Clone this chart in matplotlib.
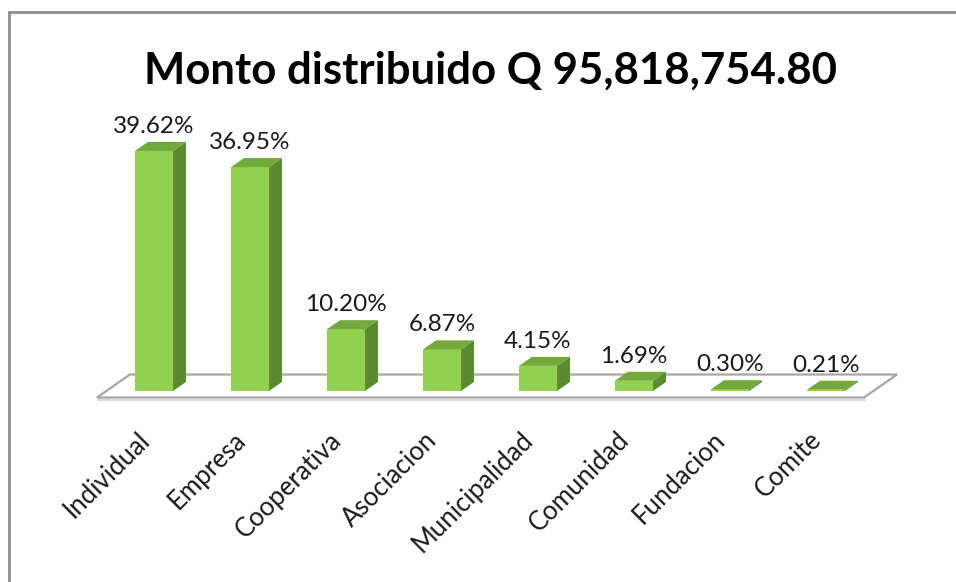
import matplotlib
matplotlib.use("Agg")
import matplotlib.pyplot as plt
from matplotlib.patches import Polygon, Rectangle

plt.rcParams['font.family'] = ['Lato', 'DejaVu Sans']

# data
categorias = ['Individual', 'Empresa', 'Cooperativa', 'Asociacion',
              'Municipalidad', 'Comunidad', 'Fundacion', 'Comite']
porcentajes = [39.62, 36.95, 10.20, 6.87, 4.15, 1.69, 0.30, 0.21]
titulo = 'Monto distribuido Q 95,818,754.80'

# colores tipo Excel
c_front = '#92d050'
c_side = '#5c8a30'
c_top = '#72a83c'
c_floor_edge = '#a6a6a6'

W, H, DPI = 956, 582, 100
fig = plt.figure(figsize=(W / DPI, H / DPI), dpi=DPI)
ax = fig.add_axes([0, 0, 1, 1])

# escala: 96 px por categoria, 6.06 px por punto porcentual
px_x = 96.0
px_y = 6.06
x0_px, y0_px = 154, 391
ax.set_xlim(-x0_px / px_x, (W - x0_px) / px_x)
ax.set_ylim(-(H - y0_px) / px_y, y0_px / px_y)
ax.axis('off')

bw = 38 / px_x
ddx, ddy = 13 / px_x, 9 / px_y   # profundidad de la barra

# piso
f_dx, f_dy = 33 / px_x, 23 / px_y
n = len(categorias)
fl, fr = -0.594, n - 1 + 0.396
fy = -6.5 / px_y
floor = Polygon([(fl, fy), (fr, fy), (fr + f_dx, fy + f_dy), (fl + f_dx, fy + f_dy)],
                closed=True, facecolor='white', edgecolor=c_floor_edge, lw=1.6, zorder=1)
ax.add_patch(floor)
ax.plot([fl + 0.01, fr + 0.01], [fy - 0.35, fy - 0.35], color='#d9d9d9', lw=1.5, zorder=0.9)

xs = list(range(n))
ax.bar(xs, porcentajes, width=bw, color=c_front, edgecolor='none', zorder=3)
for x, v in zip(xs, porcentajes):
    r = x + bw / 2
    l = x - bw / 2
    ax.add_patch(Polygon([(r, 0), (r + ddx, ddy), (r + ddx, v + ddy), (r, v)],
                         closed=True, facecolor=c_side, edgecolor='none', zorder=2.9))
    ax.add_patch(Polygon([(l, v), (r, v), (r + ddx, v + ddy), (l + ddx, v + ddy)],
                         closed=True, facecolor=c_top, edgecolor='none', zorder=3.1))
    ax.text(x, v + 3.0, f'{v:.2f}%', ha='center', va='baseline',
            fontsize=17.5, color='#1a1a1a', zorder=4)

for x, c in zip(xs, categorias):
    ax.text(x - 0.18, -6.0, c, rotation=45, rotation_mode='anchor',
            ha='right', va='top', fontsize=18.5, color='#1a1a1a')

# titulo
fig.text(490 / W, 1 - 84 / H, titulo, ha='center', va='baseline',
         fontsize=31.5, fontweight='bold', color='black')

# borde del area del grafico
fig.add_artist(Rectangle((9 / W, -0.1), 1.2, 1 - 12 / H + 0.1, transform=fig.transFigure,
                         fill=False, edgecolor='#8c8c8c', lw=2))

fig.savefig('out.png', dpi=DPI)
